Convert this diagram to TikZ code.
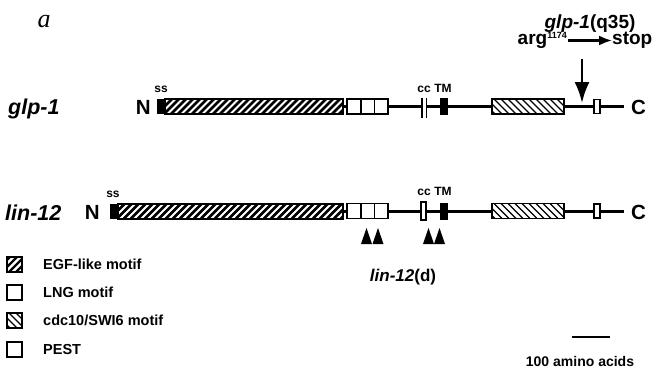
\documentclass[tikz,border=0pt]{standalone}
\usepackage{fontspec}
\setmainfont{Liberation Sans}
\newfontfamily\serifit{Liberation Serif}
\usetikzlibrary{arrows.meta}

\newcommand{\fsz}[1]{\fontsize{#1}{#1}\selectfont}

\begin{document}
\begin{tikzpicture}
  [
    x=1pt, y=-1pt,
    gene/.style={font=\bfseries\itshape\fsz{21.5}, inner sep=0, anchor=base west},
    term/.style={font=\bfseries\fsz{20.5}, inner sep=0},
    tag/.style={font=\bfseries\fsz{12}, inner sep=0, anchor=base},
    note/.style={font=\bfseries\fsz{19}, inner sep=0},
    legend/.style={font=\bfseries\fsz{14.5}, inner sep=0, anchor=west},
    backbone/.style={line width=3pt},
    motifbox/.style={draw=black, line width=1.5pt, fill=white},
    pointer/.style={line width=2.5pt, -{Latex[length=21pt,width=15pt]}},
  ]
  \useasboundingbox (0,0) rectangle (660,369);

  % panel letter
  \node[font=\serifit\itshape\fsz{26}, inner sep=0, anchor=base] (panel) at (44,28) {a};

  % both proteins
  \foreach \yc/\xs in {106.5/157, 211/110} {
    \draw[backbone] (\xs,\yc) -- (624,\yc);
    % signal sequence
    \fill (\xs,{\yc-7.5}) rectangle ({\xs+8},{\yc+7.5});
    % EGF-like repeats
    \begin{scope}
      \clip ({\xs+8},{\yc-7.5}) rectangle (343,{\yc+7.5});
      \fill[white] ({\xs+8},{\yc-7.5}) rectangle (343,{\yc+7.5});
      \foreach \k in {0,...,36}
        \draw[line width=2.8pt] ({\xs+7*\k-7},{\yc+7.5}) -- ++(15,-15);
    \end{scope}
    \draw[line width=2pt] ({\xs+8},{\yc-7.5}) rectangle (343,{\yc+7.5});
    % LNG repeats
    \foreach \a/\b in {347/361, 361/374.5, 374.5/388}
      \draw[motifbox] (\a,{\yc-7.5}) rectangle (\b,{\yc+7.5});
    % TM
    \fill (440,{\yc-8.5}) rectangle (448,{\yc+8.5});
    % cdc10/SWI6 repeats
    \begin{scope}
      \clip (492,{\yc-7.5}) rectangle (564,{\yc+7.5});
      \fill[white] (492,{\yc-7.5}) rectangle (564,{\yc+7.5});
      \foreach \k in {0,...,13}
        \draw[line width=1.4pt] ({480+7*\k},{\yc-7.5}) -- ++(15,15);
    \end{scope}
    \draw[line width=1.5pt] (492,{\yc-7.5}) rectangle (564,{\yc+7.5});
    % PEST
    \draw[motifbox] (594,{\yc-7}) rectangle (600,{\yc+7});
  }

  % glp-1
  \fill[white] (422,98) rectangle (427,117);
  \draw[line width=1.2pt] (422,98) -- (422,118) (426.5,98) -- (426.5,118);
  \node[gene] (glp) at (8,114) {glp-1};
  \node[term, anchor=base east] (glpN) at (151,114.5) {N};
  \node[term, anchor=base west] (glpC) at (631,114.5) {C};
  \node[tag] (glpss) at (161,92) {ss};
  \node[tag] (glpcc) at (424,92) {cc};
  \node[tag] (glptm) at (443,92) {TM};

  % glp-1(q35)
  \node[note, anchor=base] (q35) at (590,29) {\textit{glp-1}(q35)};
  \node[note, anchor=base east] (arg) at (567,45) {arg\raisebox{6.5pt}{\fsz{9}1174}};
  \node[note, anchor=base west] (stop) at (612,45) {stop};
  \draw[line width=2.2pt, -{Latex[length=13pt,width=10pt]}]
    ([xshift=1pt,yshift=4.5pt]arg.base east) -- ([yshift=4.5pt]stop.base west);
  \coordinate (q35from) at (582,59);
  \coordinate (q35cut) at (582,103);
  \draw[pointer] (q35from) -- (q35cut);

  % lin-12
  \draw[motifbox, line width=1.2pt] (421,202) rectangle (426,220);
  \node[gene] (lin) at (5,220) {lin-12};
  \node[term, anchor=base east] (linN) at (100,219) {N};
  \node[term, anchor=base west] (linC) at (631,219) {C};
  \node[tag] (linss) at (113,197) {ss};
  \node[tag] (lincc) at (424,195) {cc};
  \node[tag] (lintm) at (443,195) {TM};

  % lin-12(d)
  \foreach \x in {366.5, 378, 428.5, 439.5}
    \fill ({\x-5.5},244) -- (\x,228) -- ({\x+5.5},244) -- cycle;
  \node[font=\bfseries\fsz{17}, inner sep=0, anchor=base] (lind) at (403,281) {\textit{lin-12}(d)};

  % legend
  \begin{scope}
    \clip (7,257) rectangle (22,272);
    \foreach \k in {0,...,5}
      \draw[line width=2.4pt] ({7+7*\k-12},272) -- ++(15,-15);
  \end{scope}
  \draw[line width=1.5pt] (7,257) rectangle (22,272);
  \node[legend] (egf) at (43,264.5) {EGF-like motif};
  \draw[motifbox] (7,285) rectangle (22,300);
  \node[legend] (lng) at (43,292.5) {LNG motif};
  \begin{scope}
    \clip (7,313) rectangle (22,328);
    \foreach \k in {0,...,5}
      \draw[line width=1.4pt] ({7+7*\k-12},313) -- ++(15,15);
  \end{scope}
  \draw[line width=1.5pt] (7,313) rectangle (22,328);
  \node[legend] (cdc) at (43,320.5) {cdc10/SWI6 motif};
  \draw[motifbox] (7,342) rectangle (22,357);
  \node[legend] (pest) at (43,349.5) {PEST};

  % scale
  \coordinate (bar0) at (572,337);
  \coordinate (bar1) at (610,337);
  \draw[line width=2pt] (bar0) -- (bar1);
  \node[font=\bfseries\fsz{14}, inner sep=0, anchor=base] (scale) at (580,366) {100 amino acids};
\end{tikzpicture}
\end{document}
